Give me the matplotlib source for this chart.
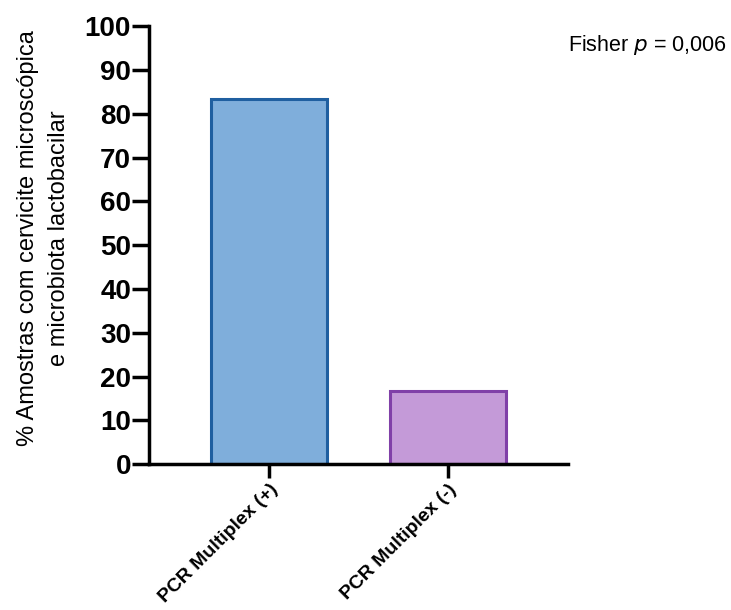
import matplotlib.pyplot as plt

plt.rcParams['font.family'] = ['Liberation Sans', 'DejaVu Sans']

# dados
grupos = ['PCR Multiplex (+)', 'PCR Multiplex (-)']
percentuais = [83.3, 16.7]
cores = ['#7faedb', '#c49ad8']
bordas = ['#1f5fa0', '#8040a8']
yticks = [0, 10, 20, 30, 40, 50, 60, 70, 80, 90, 100]

fig = plt.figure(figsize=(7.31, 6.10), dpi=100)
ax = fig.add_axes([0.204, 0.239, 0.573, 0.718])

x = range(len(grupos))
ax.bar(x, percentuais, width=0.65, color=cores, edgecolor=bordas, linewidth=2.2, zorder=2)

ax.set_xlim(-0.67, 1.67)
ax.set_ylim(0, 100)
ax.set_yticks(yticks)
ax.set_yticklabels([str(t) for t in yticks], fontsize=20, fontweight='bold')
ax.set_xticks(list(x))
ax.set_xticklabels(grupos, rotation=45, ha='right', va='top', rotation_mode='anchor',
                   fontsize=14, fontweight='bold')

for s in ['top', 'right']:
    ax.spines[s].set_visible(False)
for s in ['left', 'bottom']:
    ax.spines[s].set_linewidth(2.5)
ax.tick_params(axis='y', width=2.5, length=12, pad=1)
ax.tick_params(axis='x', width=2.5, length=10, pad=2)

ax.set_ylabel('% Amostras com cervicite microscópica\ne microbiota lactobacilar', fontsize=17,
              linespacing=1.5)
ax.yaxis.set_label_coords(-0.19, 0.516)

fig.text(0.777, 0.926, 'Fisher $\\it{p}$ = 0,006', fontsize=15.5, va='center')

fig.savefig('out.png', dpi=100)
